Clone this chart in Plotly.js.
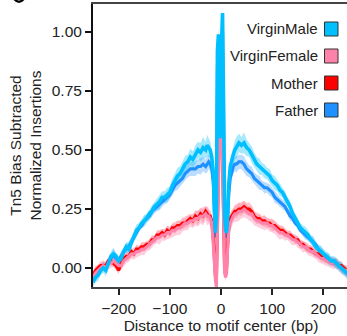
<!DOCTYPE html>
<html>
<head>
<meta charset="utf-8">
<script src="https://cdn.plot.ly/plotly-3.0.1.min.js"></script>
<style>
html,body{margin:0;padding:0;overflow:hidden;background:#fff;}
#chart{width:352px;height:336px;}
</style>
</head>
<body>
<div id="chart"></div>
<script>
// Distance to motif center (bp)
const xPos = [
  -250,-245,-240,-235,-230,-225,-220,-215,-210,-205,
  -200,-195,-190,-185,-180,-175,-170,-165,-160,-155,
  -150,-145,-140,-135,-130,-125,-120,-115,-110,-105,
  -100,-95,-90,-85,-80,-75,-70,-65,-60,-55,
  -50,-45,-40,-35,-30,
  -27,-24,-21,-18,-15,-13,-11,-9,-7,-5,
  -3,-1,1,3,5,7,9,11,13,15,
  18,21,24,27,
  30,35,40,45,50,55,60,65,70,75,
  80,85,90,95,100,105,110,115,120,125,
  130,135,140,145,150,155,160,165,170,175,
  180,185,190,195,200,205,210,215,220,225,
  230,235,240,245,250
];

const seriesNames = ["VirginMale", "VirginFemale", "Mother", "Father"];
const seriesColors = ["#00BFFF", "#FF82AB", "#FF0000", "#1E90FF"];
const bandColors = ["rgba(0,191,255,0.35)", "rgba(255,130,171,0.38)", "rgba(255,0,0,0.22)", "rgba(30,144,255,0.30)"];

const virginMale = [
  -0.06,-0.04,-0.03,-0.01,0.00,-0.01,0.02,0.05,0.06,0.05,
  0.03,0.04,0.07,0.09,0.08,0.11,0.14,0.16,0.17,0.19,
  0.20,0.21,0.23,0.24,0.26,0.27,0.28,0.30,0.30,0.31,
  0.32,0.35,0.37,0.39,0.40,0.42,0.44,0.45,0.47,0.46,
  0.48,0.50,0.49,0.51,0.50,
  0.52,0.51,0.50,0.47,0.40,0.25,0.15,0.22,0.92,0.99,
  0.60,0.55,0.95,1.08,0.70,0.22,0.16,0.15,0.22,0.35,
  0.43,0.46,0.48,0.50,
  0.51,0.53,0.52,0.53,0.51,0.50,0.48,0.46,0.44,0.43,
  0.42,0.41,0.40,0.39,0.37,0.36,0.35,0.33,0.32,0.30,
  0.28,0.26,0.23,0.21,0.19,0.17,0.16,0.15,0.14,0.12,
  0.11,0.09,0.08,0.07,0.06,0.05,0.04,0.03,0.03,0.02,
  0.01,0.00,-0.01,-0.02,-0.03
];
const virginMaleSE = [
  0.02,0.02,0.025,0.02,0.02,0.025,0.02,0.02,0.025,0.02,
  0.02,0.025,0.02,0.02,0.025,0.02,0.02,0.025,0.02,0.02,
  0.025,0.02,0.02,0.025,0.02,0.025,0.03,0.025,0.025,0.03,
  0.025,0.03,0.03,0.035,0.03,0.03,0.035,0.03,0.035,0.035,
  0.04,0.035,0.04,0.045,0.035,
  0.045,0.04,0.035,0.03,0.03,0.02,0.02,0.02,0.03,0.03,
  0.03,0.03,0.03,0.03,0.03,0.02,0.02,0.02,0.02,0.03,
  0.03,0.035,0.035,0.04,
  0.045,0.04,0.035,0.045,0.035,0.03,0.035,0.03,0.03,0.035,
  0.025,0.03,0.025,0.03,0.025,0.03,0.025,0.025,0.02,0.025,
  0.02,0.025,0.02,0.02,0.025,0.02,0.02,0.025,0.02,0.02,
  0.025,0.02,0.02,0.025,0.02,0.02,0.025,0.02,0.02,0.025,
  0.02,0.025,0.02,0.025,0.02
];

const father = [
  -0.05,-0.04,-0.02,-0.01,0.01,0.00,0.02,0.04,0.06,0.04,
  0.03,0.05,0.07,0.08,0.09,0.11,0.13,0.15,0.17,0.18,
  0.20,0.21,0.22,0.24,0.25,0.26,0.27,0.28,0.29,0.30,
  0.31,0.33,0.35,0.36,0.37,0.38,0.40,0.41,0.42,0.42,
  0.42,0.43,0.43,0.44,0.43,
  0.44,0.45,0.44,0.42,0.36,0.22,0.13,0.18,0.85,0.95,
  0.58,0.55,0.90,1.00,0.65,0.20,0.13,0.14,0.20,0.31,
  0.38,0.41,0.43,0.44,
  0.44,0.45,0.45,0.44,0.42,0.41,0.40,0.38,0.37,0.36,
  0.35,0.34,0.34,0.33,0.32,0.30,0.29,0.28,0.27,0.26,
  0.24,0.22,0.21,0.19,0.18,0.16,0.15,0.14,0.13,0.12,
  0.11,0.10,0.08,0.07,0.06,0.05,0.04,0.03,0.03,0.02,
  0.01,0.00,-0.01,-0.02,-0.02
];
const fatherSE = [
  0.015,0.015,0.02,0.015,0.015,0.02,0.015,0.015,0.02,0.015,
  0.015,0.02,0.015,0.015,0.02,0.015,0.015,0.02,0.015,0.015,
  0.02,0.015,0.02,0.02,0.02,0.02,0.025,0.02,0.02,0.025,
  0.02,0.025,0.025,0.03,0.025,0.025,0.03,0.025,0.03,0.03,
  0.03,0.03,0.035,0.03,0.03,
  0.035,0.03,0.03,0.025,0.025,0.02,0.02,0.02,0.025,0.025,
  0.025,0.025,0.025,0.025,0.025,0.02,0.02,0.02,0.02,0.025,
  0.025,0.03,0.03,0.03,
  0.035,0.03,0.03,0.035,0.03,0.025,0.03,0.025,0.025,0.03,
  0.02,0.025,0.02,0.025,0.02,0.025,0.02,0.02,0.02,0.02,
  0.015,0.02,0.015,0.015,0.02,0.015,0.015,0.02,0.015,0.015,
  0.02,0.015,0.015,0.02,0.015,0.015,0.02,0.015,0.015,0.02,
  0.015,0.02,0.015,0.02,0.015
];

const virginFemale = [
  -0.04,-0.02,-0.01,0.00,0.01,0.00,0.02,0.02,0.03,0.02,
  0.01,0.01,0.03,0.04,0.05,0.06,0.06,0.07,0.07,0.08,
  0.08,0.09,0.10,0.11,0.12,0.13,0.13,0.14,0.14,0.15,
  0.15,0.16,0.16,0.17,0.17,0.18,0.19,0.19,0.20,0.20,
  0.21,0.21,0.22,0.22,0.23,
  0.22,0.22,0.21,0.19,0.10,0.00,-0.05,-0.08,0.20,0.50,
  0.58,0.60,0.57,0.45,0.20,-0.02,-0.04,-0.02,0.08,0.15,
  0.19,0.21,0.22,0.23,
  0.23,0.24,0.24,0.25,0.24,0.23,0.23,0.21,0.20,0.20,
  0.19,0.19,0.19,0.18,0.18,0.17,0.16,0.15,0.15,0.14,
  0.14,0.13,0.12,0.12,0.11,0.10,0.09,0.09,0.08,0.07,
  0.07,0.06,0.05,0.04,0.04,0.03,0.03,0.02,0.02,0.02,
  0.01,0.00,-0.01,-0.01,-0.02
];
const virginFemaleSE = [
  0.025,0.02,0.025,0.02,0.025,0.02,0.025,0.02,0.025,0.02,
  0.025,0.02,0.025,0.02,0.025,0.02,0.025,0.025,0.02,0.025,
  0.025,0.02,0.025,0.025,0.02,0.025,0.03,0.025,0.025,0.03,
  0.025,0.03,0.025,0.03,0.03,0.025,0.03,0.03,0.025,0.03,
  0.03,0.035,0.03,0.04,0.03,
  0.04,0.035,0.03,0.03,0.03,0.02,0.02,0.02,0.03,0.03,
  0.03,0.03,0.03,0.03,0.03,0.02,0.02,0.02,0.02,0.03,
  0.03,0.035,0.03,0.035,
  0.035,0.04,0.03,0.035,0.03,0.03,0.035,0.03,0.025,0.03,
  0.025,0.03,0.025,0.025,0.03,0.025,0.025,0.03,0.025,0.025,
  0.02,0.025,0.025,0.02,0.025,0.02,0.025,0.02,0.025,0.02,
  0.025,0.02,0.025,0.02,0.025,0.02,0.025,0.02,0.025,0.02,
  0.025,0.02,0.025,0.02,0.025
];

const mother = [
  -0.03,-0.01,0.00,0.01,0.01,0.01,0.03,0.03,0.02,0.01,
  -0.01,0.02,0.04,0.05,0.05,0.07,0.06,0.08,0.08,0.09,
  0.09,0.10,0.10,0.12,0.12,0.14,0.14,0.15,0.14,0.16,
  0.15,0.17,0.17,0.18,0.18,0.19,0.19,0.20,0.21,0.20,
  0.22,0.21,0.23,0.22,0.24,
  0.23,0.22,0.22,0.20,0.12,0.02,-0.03,-0.05,0.22,0.52,
  0.62,0.64,0.60,0.46,0.22,0.00,-0.02,0.00,0.10,0.17,
  0.21,0.22,0.23,0.24,
  0.24,0.25,0.25,0.26,0.25,0.25,0.24,0.22,0.21,0.21,
  0.20,0.20,0.19,0.19,0.18,0.18,0.17,0.16,0.16,0.15,
  0.14,0.14,0.13,0.12,0.12,0.10,0.10,0.09,0.08,0.08,
  0.07,0.06,0.06,0.05,0.04,0.04,0.03,0.03,0.02,0.02,
  0.01,0.01,0.00,-0.01,-0.01
];
const motherSE = [
  0.015,0.02,0.015,0.02,0.015,0.02,0.015,0.02,0.015,0.02,
  0.015,0.02,0.015,0.02,0.015,0.02,0.015,0.02,0.015,0.02,
  0.02,0.015,0.02,0.02,0.015,0.02,0.02,0.015,0.02,0.02,
  0.02,0.02,0.025,0.02,0.02,0.025,0.02,0.025,0.02,0.025,
  0.025,0.03,0.025,0.03,0.025,
  0.03,0.025,0.025,0.02,0.02,0.015,0.015,0.015,0.02,0.02,
  0.02,0.02,0.02,0.02,0.02,0.015,0.015,0.015,0.015,0.02,
  0.025,0.025,0.03,0.025,
  0.03,0.025,0.03,0.025,0.025,0.03,0.025,0.02,0.025,0.02,
  0.02,0.025,0.02,0.02,0.025,0.02,0.02,0.02,0.02,0.02,
  0.015,0.02,0.015,0.02,0.015,0.02,0.015,0.02,0.015,0.02,
  0.015,0.02,0.015,0.02,0.015,0.02,0.015,0.02,0.015,0.02,
  0.015,0.02,0.015,0.02,0.015
];

const yTickVals = [0, 0.25, 0.5, 0.75, 1.0];
const yTickText = ["0.00", "0.25", "0.50", "0.75", "1.00"];
const xTickVals = [-200, -100, 0, 100, 200];
const xTickText = ["\u2212200", "\u2212100", "0", "100", "200"];

const seriesValues = {VirginMale: virginMale, VirginFemale: virginFemale, Mother: mother, Father: father};
const seriesSE = {VirginMale: virginMaleSE, VirginFemale: virginFemaleSE, Mother: motherSE, Father: fatherSE};

[virginMale, virginMaleSE, father, fatherSE, virginFemale, virginFemaleSE, mother, motherSE].forEach((a, i) => {
  if (a.length !== xPos.length) throw new Error("length mismatch in array " + i + ": " + a.length + " vs " + xPos.length);
});

const FONT = "Liberation Sans, Arial, Helvetica, sans-serif";
const drawOrder = ["Father", "Mother", "VirginFemale", "VirginMale"];
const traces = [];
drawOrder.forEach(name => {
  const k = seriesNames.indexOf(name);
  const v = seriesValues[name], se = seriesSE[name];
  const upper = v.map((y, i) => y + se[i]);
  const lower = v.map((y, i) => y - se[i]);
  traces.push({
    x: xPos.concat(xPos.slice().reverse()),
    y: upper.concat(lower.slice().reverse()),
    type: "scatter", mode: "lines", fill: "toself",
    fillcolor: bandColors[k], line: {width: 0, color: bandColors[k]},
    hoverinfo: "skip", showlegend: false
  });
});
drawOrder.forEach(name => {
  const k = seriesNames.indexOf(name);
  traces.push({
    x: xPos, y: seriesValues[name], type: "scatter", mode: "lines",
    name: name, line: {color: seriesColors[k], width: name === "VirginMale" ? 3.6 : 3.1},
    showlegend: false
  });
});

// custom legend: right-aligned text with swatch on the right
const plotL = 93, plotR = 349, plotT = 4, plotB = 287;
const px2paperX = p => (p - plotL) / (plotR - plotL);
const px2paperY = p => (plotB - p) / (plotB - plotT);
const legendRowY = [29, 56, 83, 110];
const annotations = [];
const shapes = [];
seriesNames.forEach((name, k) => {
  annotations.push({
    xref: "paper", yref: "paper", x: px2paperX(320), y: px2paperY(legendRowY[k]),
    xanchor: "right", yanchor: "middle", showarrow: false, text: name,
    font: {family: FONT, size: 15, color: "#222"}
  });
  shapes.push({
    type: "rect", xref: "paper", yref: "paper",
    x0: px2paperX(324.5), x1: px2paperX(338), y0: px2paperY(legendRowY[k] + 7), y1: px2paperY(legendRowY[k] - 7),
    fillcolor: seriesColors[k], line: {color: "#333", width: 1}
  });
});
// bottom of the (cropped) panel letter in the top-left corner, as a small crescent
const P = (px, py) => px2paperX(px).toFixed(4) + "," + px2paperY(py).toFixed(4);
shapes.push({
  type: "path", xref: "paper", yref: "paper",
  path: "M" + P(12, -2) + " Q" + P(19, 8) + " " + P(26, -2) + " L" + P(22.5, -2) + " Q" + P(19, 3) + " " + P(15.5, -2) + " Z",
  fillcolor: "#000", line: {width: 0}
});

const layout = {
  width: 352, height: 336,
  margin: {l: plotL, r: 352 - plotR, t: plotT, b: 336 - plotB},
  paper_bgcolor: "#fff", plot_bgcolor: "#fff",
  showlegend: false,
  font: {family: FONT, size: 15.5, color: "#222"},
  xaxis: {
    range: [-250, 250], tickvals: xTickVals, ticktext: xTickText,
    showgrid: false, zeroline: false, showline: true, mirror: true,
    linecolor: "#444", linewidth: 2, ticks: "outside", ticklen: 6, tickwidth: 2, tickcolor: "#222",
    tickfont: {family: FONT, size: 15.5, color: "#222"},
    title: {text: "Distance to motif center (bp)", font: {family: FONT, size: 15.5, color: "#222"}, standoff: 5},
    automargin: false
  },
  yaxis: {
    range: [-0.0805, 1.1186], tickvals: yTickVals, ticktext: yTickText,
    showgrid: false, zeroline: false, showline: true, mirror: true,
    linecolor: "#111", linewidth: 2, ticks: "outside", ticklen: 6, tickwidth: 2, tickcolor: "#111",
    tickfont: {family: FONT, size: 15.5, color: "#222"},
    title: {text: "Tn5 Bias Subtracted<br>Normalized Insertions", font: {family: FONT, size: 15.5, color: "#222"}, standoff: 6},
    automargin: false
  },
  annotations: annotations,
  shapes: shapes
};

Plotly.newPlot("chart", traces, layout, {displayModeBar: false, staticPlot: true});
</script>
</body>
</html>
